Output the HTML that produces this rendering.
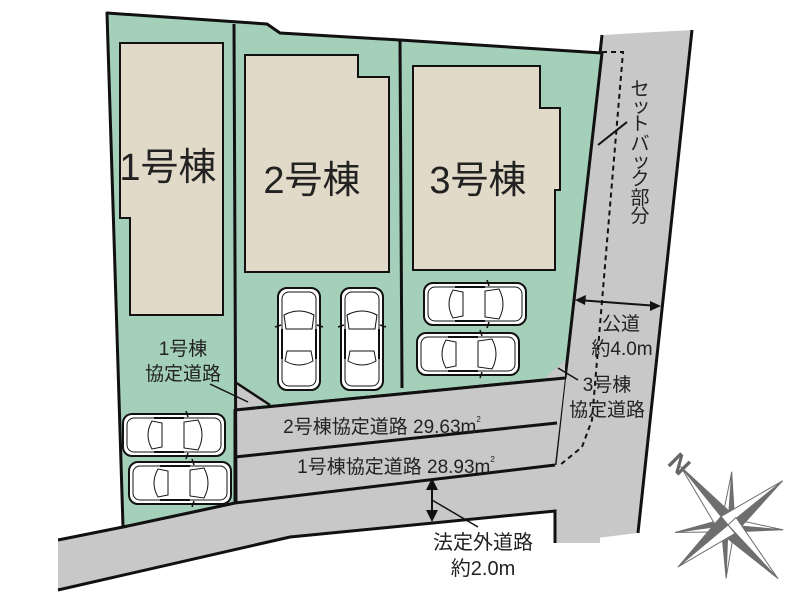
<!DOCTYPE html>
<html><head><meta charset="utf-8"><style>
html,body{margin:0;padding:0;background:#fff;width:800px;height:600px;overflow:hidden}
svg{display:block}
text{font-family:"Liberation Sans","Noto Sans CJK JP",sans-serif;fill:#222}
</style></head><body>
<svg width="800" height="600" viewBox="0 0 800 600" xmlns="http://www.w3.org/2000/svg">
<defs>
<g id="car">
<rect x="-21" y="-51" width="42" height="102" rx="9" fill="#fff" stroke="#111" stroke-width="2"/>
<rect x="-17" y="-47" width="34" height="94" rx="7" fill="none" stroke="#111" stroke-width="1"/>
<path d="M-15,-24 Q0,-32 15,-24 L13,-10 L-13,-10 Z" fill="none" stroke="#111" stroke-width="1"/>
<path d="M-14,22 Q0,30 14,22 L12,12 L-12,12 Z" fill="none" stroke="#111" stroke-width="1"/>
<line x1="-17" y1="-10" x2="-17" y2="20" stroke="#111" stroke-width="2"/>
<line x1="17" y1="-10" x2="17" y2="20" stroke="#111" stroke-width="2"/>
<line x1="-24" y1="-12" x2="-18" y2="-14" stroke="#111" stroke-width="1.5"/>
<line x1="24" y1="-12" x2="18" y2="-14" stroke="#111" stroke-width="1.5"/>
</g>
<g id="armL"><polygon points="0,-1 11,0 0,0" fill="#6e6e6e" transform="scale(1,1)"/></g>
</defs>
<!-- east road -->
<polygon points="602,35 692,30 638,533 555,543 555,465 565,378" fill="#c8c8c8"/>
<line x1="602" y1="35" x2="555" y2="465" stroke="#111" stroke-width="3"/>
<line x1="692" y1="30" x2="638" y2="533" stroke="#111" stroke-width="3"/>
<!-- lower road -->
<polygon points="58,540 123,527 235,505 290,486 555,465 555,543 555,511 290,537 58,590" fill="#c8c8c8"/>
<polygon points="555,465 600,465 600,543 555,543" fill="#c8c8c8"/>
<polyline points="58,540 123,527 235,503 290,486 555,465" fill="none" stroke="#111" stroke-width="3"/>
<polyline points="58,590 290,537 555,511 555,543" fill="none" stroke="#111" stroke-width="3"/>
<!-- green lots -->
<polygon points="107,13 267,24 280,33 400,40 602,53 567,362 565,378 235,410 235,503 123,527" fill="#a4cfb8" stroke="#111" stroke-width="3" stroke-linejoin="round"/>
<!-- shared driveway strips -->
<polygon points="235,410 565,378 555,465 235,503" fill="#c8c8c8"/>
<polygon points="235,380 270,403 235,410" fill="#c8c8c8"/>
<polygon points="545,378 565,360 565,378" fill="#c8c8c8"/>
<line x1="235" y1="410" x2="565" y2="378" stroke="#111" stroke-width="3"/>
<line x1="235" y1="457" x2="557" y2="423" stroke="#111" stroke-width="3"/>
<line x1="235" y1="503" x2="555" y2="465" stroke="#111" stroke-width="3"/>
<line x1="235" y1="382" x2="270" y2="405" stroke="#111" stroke-width="2.5"/>
<line x1="234" y1="24" x2="236" y2="503" stroke="#111" stroke-width="3"/>
<line x1="400" y1="40" x2="402" y2="388" stroke="#111" stroke-width="3"/>
<!-- buildings -->
<polygon points="120,43 223,43 223,315 130,315 130,218 120,218" fill="#e2dac9" stroke="#111" stroke-width="2"/>
<polygon points="245,55 358,55 358,77 389,77 389,272 245,272" fill="#e2dac9" stroke="#111" stroke-width="2"/>
<polygon points="413,66 540,66 540,108 560,108 560,190 555,190 555,270 413,270" fill="#e2dac9" stroke="#111" stroke-width="2"/>
<text x="168" y="180" font-size="38" text-anchor="middle">1号棟</text>
<text x="312" y="193" font-size="38" text-anchor="middle">2号棟</text>
<text x="478" y="193" font-size="38" text-anchor="middle">3号棟</text>
<!-- cars -->
<use href="#car" transform="translate(299,339)"/>
<use href="#car" transform="translate(362,339)"/>
<use href="#car" transform="translate(475,304) rotate(90)"/>
<use href="#car" transform="translate(468,354) rotate(90)"/>
<use href="#car" transform="translate(174,435) rotate(90)"/>
<use href="#car" transform="translate(180,483) rotate(90)"/>
<!-- setback dashed -->
<polyline points="602,52 623,52 592,420 582,447 560,465" fill="none" stroke="#111" stroke-width="2" stroke-dasharray="5,4"/>
<line x1="598" y1="145" x2="627" y2="122" stroke="#111" stroke-width="2"/>
<g font-size="19" text-anchor="middle">
<text x="640" y="95">セ</text>
<text x="641" y="112">ッ</text>
<text x="640" y="130">ト</text>
<text x="640" y="150">バ</text>
<text x="641" y="167">ッ</text>
<text x="640" y="185">ク</text>
<text x="640" y="204">部</text>
<text x="640" y="222">分</text>
</g>
<!-- public road width arrow -->
<line x1="578" y1="300" x2="658" y2="306" stroke="#111" stroke-width="2"/>
<polygon points="575,300 586,295 585,305" fill="#111"/>
<polygon points="661,306 650,301 650,311" fill="#111"/>
<text x="621" y="330" font-size="19" text-anchor="middle">公道</text>
<text x="622" y="355" font-size="19" text-anchor="middle">約4.0m</text>
<text x="607" y="391" font-size="19" text-anchor="middle">3号棟</text>
<text x="607" y="416" font-size="19" text-anchor="middle">協定道路</text>
<line x1="558" y1="368" x2="578" y2="380" stroke="#111" stroke-width="1.5"/>
<text x="183" y="355" font-size="19" text-anchor="middle">1号棟</text>
<text x="183" y="380" font-size="19" text-anchor="middle">協定道路</text>
<line x1="210" y1="384" x2="248" y2="402" stroke="#111" stroke-width="1.5"/>
<text x="382" y="433" font-size="19" text-anchor="middle">2号棟協定道路 29.63m<tspan font-size="8" dy="-11">2</tspan></text>
<text x="396" y="473" font-size="19" text-anchor="middle">1号棟協定道路 28.93m<tspan font-size="8" dy="-11">2</tspan></text>
<!-- lower road arrow -->
<line x1="432" y1="482" x2="432" y2="518" stroke="#111" stroke-width="2"/>
<polygon points="432,478 426,490 438,490" fill="#111"/>
<polygon points="432,522 426,510 438,510" fill="#111"/>
<line x1="432" y1="500" x2="478" y2="527" stroke="#111" stroke-width="1.5"/>
<text x="483" y="549" font-size="20" text-anchor="middle">法定外道路</text>
<text x="483" y="575" font-size="20" text-anchor="middle">約2.0m</text>
<!-- compass -->
<text x="672" y="466" font-size="26" font-weight="bold" style="fill:#666" transform="rotate(45 672 458)">N</text>
<g transform="translate(728,525)" stroke="#6e6e6e" stroke-width="1" stroke-linejoin="round">
<g transform="rotate(4)"><polygon points="0,-53 7,0 0,0" fill="#6e6e6e"/><polygon points="0,-53 -7,0 0,0" fill="#fff"/></g>
<g transform="rotate(95)"><polygon points="0,-55 7,0 0,0" fill="#6e6e6e"/><polygon points="0,-55 -7,0 0,0" fill="#fff"/></g>
<g transform="rotate(182)"><polygon points="0,-53 7,0 0,0" fill="#6e6e6e"/><polygon points="0,-53 -7,0 0,0" fill="#fff"/></g>
<g transform="rotate(-98)"><polygon points="0,-53 7,0 0,0" fill="#6e6e6e"/><polygon points="0,-53 -7,0 0,0" fill="#fff"/></g>
<g transform="rotate(-39)"><polygon points="0,-75 11,0 0,0" fill="#6e6e6e"/><polygon points="0,-75 -11,0 0,0" fill="#fff"/></g>
<g transform="rotate(51)"><polygon points="0,-70 11,0 0,0" fill="#6e6e6e"/><polygon points="0,-70 -11,0 0,0" fill="#fff"/></g>
<g transform="rotate(137)"><polygon points="0,-73 11,0 0,0" fill="#6e6e6e"/><polygon points="0,-73 -11,0 0,0" fill="#fff"/></g>
<g transform="rotate(-130)"><polygon points="0,-65 11,0 0,0" fill="#6e6e6e"/><polygon points="0,-65 -11,0 0,0" fill="#fff"/></g>
</g>
</svg>
</body></html>
